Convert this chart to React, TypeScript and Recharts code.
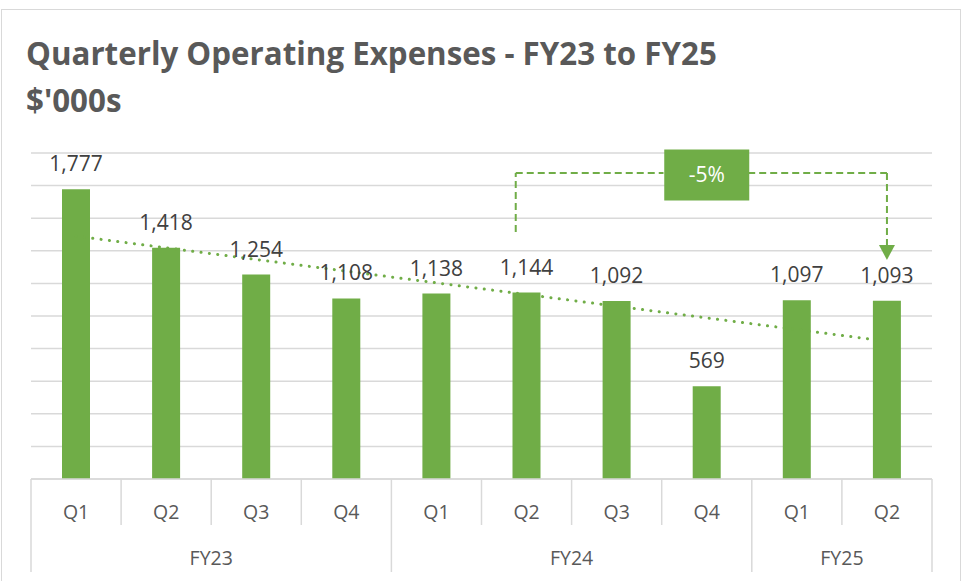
import React from 'react';
import {
  ComposedChart,
  Bar,
  Line,
  XAxis,
  YAxis,
  CartesianGrid,
  LabelList,
  ReferenceLine,
  ReferenceDot,
} from 'recharts';

const QUARTERS = ['Q1', 'Q2', 'Q3', 'Q4', 'Q1', 'Q2', 'Q3', 'Q4', 'Q1', 'Q2'];
const YEAR_LABELS = ['FY23', 'FY24', 'FY25'];
const YEAR_SIZES = [4, 4, 2];
const OPEX = [1777, 1418, 1254, 1108, 1138, 1144, 1092, 569, 1097, 1093];
// trendline ends
const TREND = [1490, null, null, null, null, null, null, null, null, 845];
const Y_TICKS = [0, 200, 400, 600, 800, 1000, 1200, 1400, 1600, 1800, 2000];
const CHANGE_LABEL = '-5%';

const GREEN = '#70AD47';
const GRID = '#d9d9d9';
const FONT = '"Open Sans", Lato, sans-serif';

const W = 962;
const H = 581;
const PLOT_LEFT = 31;
const PLOT_RIGHT = 932;
const BAND = (PLOT_RIGHT - PLOT_LEFT) / QUARTERS.length;

const data = QUARTERS.map((q, i) => ({
  idx: i,
  quarter: q,
  value: OPEX[i],
  trend: TREND[i],
}));

const groupStarts: number[] = [];
YEAR_SIZES.reduce((acc, n) => {
  groupStarts.push(acc);
  return acc + n;
}, 0);

function AxisTick({ x, y, payload }: any) {
  const i = payload.value as number;
  const left = x - BAND / 2;
  const g = groupStarts.indexOf(i);
  const isLast = i === QUARTERS.length - 1;
  return (
    <g>
      <line x1={left} x2={left} y1={y} y2={y + (g >= 0 ? 93 : 46)} stroke={GRID} strokeWidth={1.5} />
      {isLast && (
        <line x1={x + BAND / 2} x2={x + BAND / 2} y1={y} y2={y + 93} stroke={GRID} strokeWidth={1.5} />
      )}
      <text x={x} y={y + 40} textAnchor="middle" fill="#595959" fontSize={19.5} fontFamily={FONT}>
        {QUARTERS[i]}
      </text>
      {g >= 0 && (
        <text
          x={x + ((YEAR_SIZES[g] - 1) / 2) * BAND}
          y={y + 86}
          textAnchor="middle"
          fill="#595959"
          fontSize={19.5}
          fontFamily={FONT}
        >
          {YEAR_LABELS[g]}
        </text>
      )}
    </g>
  );
}

function ArrowHead({ cx, cy }: any) {
  return <path d={`M${cx - 8},${cy - 15} L${cx + 8},${cy - 15} L${cx},${cy} Z`} fill={GREEN} />;
}

function ChangeBox({ cx, cy }: any) {
  return (
    <g>
      <rect x={cx - 42.5} y={cy - 25.5} width={85} height={51} fill={GREEN} />
      <text x={cx} y={cy + 7} textAnchor="middle" fill="#fff" fontSize={21} fontFamily={FONT}>
        {CHANGE_LABEL}
      </text>
    </g>
  );
}

const dash = { stroke: GREEN, strokeWidth: 2, strokeDasharray: '7 4' };

export default function App() {
  return (
    <div style={{ position: 'fixed', inset: 0, overflow: 'hidden', background: '#fff' }}>
      <div
        style={{
          position: 'absolute',
          left: 1,
          top: 9,
          width: 960,
          height: 600,
          border: `1px solid ${GRID}`,
          boxSizing: 'border-box',
        }}
      />
      <svg width={W} height={130} style={{ position: 'absolute', left: 0, top: 0 }}>
        <text x={26} y={65} fill="#595959" fontSize={31.3} fontWeight={700} fontFamily={FONT}>
          Quarterly Operating Expenses - FY23 to FY25
        </text>
        <text x={26} y={112} fill="#595959" fontSize={31.3} fontWeight={700} fontFamily={FONT}>
          $'000s
        </text>
      </svg>
      <div style={{ position: 'absolute', left: 0, top: 0 }}>
        <ComposedChart
          width={W}
          height={H}
          data={data}
          margin={{ top: 153, right: W - PLOT_RIGHT, bottom: 9, left: PLOT_LEFT }}
        >
          <CartesianGrid vertical={false} stroke={GRID} strokeWidth={1.5} />
          <YAxis hide domain={[0, 2000]} ticks={Y_TICKS} />
          <XAxis
            dataKey="idx"
            type="number"
            domain={[-0.5, QUARTERS.length - 0.5]}
            ticks={data.map((d) => d.idx)}
            interval={0}
            height={93}
            tickSize={0}
            tickMargin={0}
            axisLine={{ stroke: GRID, strokeWidth: 1.5 }}
            tickLine={false}
            tick={<AxisTick />}
          />
          <Line
            dataKey="trend"
            connectNulls
            stroke={GREEN}
            strokeWidth={3}
            strokeDasharray="0.1 8.3"
            strokeLinecap="round"
            dot={false}
            activeDot={false}
            isAnimationActive={false}
          />
          <Bar dataKey="value" fill={GREEN} barSize={28} isAnimationActive={false}>
            <LabelList
              dataKey="value"
              position="top"
              offset={18}
              fill="#404040"
              fontSize={21}
              fontFamily={FONT}
              formatter={(v: any) => Number(v).toLocaleString('en-US')}
            />
          </Bar>
          <ReferenceLine segment={[{ x: 4.88, y: 1515 }, { x: 4.88, y: 1877 }]} {...dash} />
          <ReferenceLine segment={[{ x: 4.88, y: 1877 }, { x: 6.52, y: 1877 }]} {...dash} />
          <ReferenceLine segment={[{ x: 7.46, y: 1877 }, { x: 9, y: 1877 }]} {...dash} />
          <ReferenceLine segment={[{ x: 9, y: 1877 }, { x: 9, y: 1432 }]} {...dash} />
          <ReferenceDot x={9} y={1344} r={8} shape={<ArrowHead />} ifOverflow="visible" />
          <ReferenceDot x={7} y={1865} r={20} shape={<ChangeBox />} ifOverflow="visible" />
        </ComposedChart>
      </div>
    </div>
  );
}
